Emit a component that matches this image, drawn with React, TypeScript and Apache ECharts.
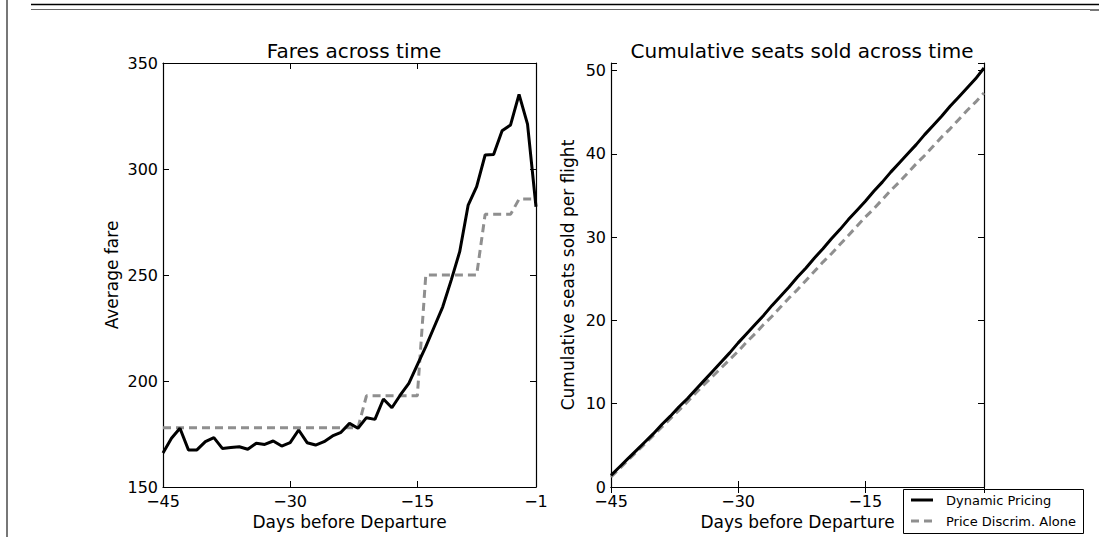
import React, { useEffect, useRef } from "react";
import * as echarts from "echarts";

const days = [-45,-44,-43,-42,-41,-40,-39,-38,-37,-36,-35,-34,-33,-32,-31,-30,-29,-28,-27,-26,-25,-24,-23,-22,-21,-20,-19,-18,-17,-16,-15,-14,-13,-12,-11,-10,-9,-8,-7,-6,-5,-4,-3,-2,-1];

const fareDynamic = [166,173,177.7,167.5,167.5,171.4,173.3,168.2,168.6,169,167.8,170.6,170.1,171.7,169.3,170.9,176.9,170.9,169.8,171.4,174.1,175.8,180,177.7,182.7,181.9,191.5,187.4,193.4,198.9,207.6,216.2,225.6,235,247.6,261,283,291.7,306.6,306.8,318,320.8,335.2,321.2,282.2];

const fareDiscrim = [178,178,178,178,178,178,178,178,178,178,178,178,178,178,178,178,178,178,178,178,178,178,178,178,193,193,193,193,193,193,193,250,250,250,250,250,250,250,278.6,278.6,278.6,278.6,285.8,285.8,285.8];

const seatsDynamic = [1.4,2.4,3.4,4.4,5.4,6.4,7.5,8.5,9.6,10.6,11.7,12.8,13.9,15.0,16.1,17.3,18.4,19.5,20.6,21.8,22.9,24.0,25.2,26.3,27.5,28.6,29.8,30.9,32.1,33.2,34.3,35.5,36.6,37.8,38.9,40.0,41.1,42.3,43.4,44.5,45.7,46.8,47.9,49.0,50.3];

const seatsDiscrim = [1.2,2.2,3.2,4.2,5.2,6.2,7.2,8.2,9.2,10.2,11.3,12.3,13.3,14.3,15.3,16.3,17.4,18.4,19.5,20.5,21.6,22.7,23.7,24.8,25.9,27.0,28.0,29.1,30.2,31.3,32.4,33.4,34.5,35.6,36.6,37.7,38.8,39.8,40.9,42.0,43.0,44.1,45.2,46.2,47.3];

const titles = ["Fares across time", "Cumulative seats sold across time"];
const seriesNames = ["Dynamic Pricing", "Price Discrim. Alone"];
const xName = "Days before Departure";
const yNames = ["Average fare", "Cumulative seats sold per flight"];

const FONT = "DejaVu Sans";
const GRAY = "#8f8f8f";

const minus = (v: number) => String(v).replace("-", "\u2212");

export default function App() {
  const ref = useRef<HTMLDivElement>(null);
  useEffect(() => {
    if (!ref.current) return;
    const chart = echarts.init(ref.current, undefined, { renderer: "svg" });
    const lineAx = { show: true, lineStyle: { color: "#000", width: 1.2 } };
    const tick = { show: true, inside: true, length: 6, lineStyle: { color: "#000", width: 1 } };
    const lbl = { color: "#000", fontFamily: FONT, fontSize: 16 };
    const nameStyle = { color: "#000", fontFamily: FONT, fontSize: 17 };
    const xMain = (gi: number) => ({
      type: "value", gridIndex: gi, position: "bottom", min: -45, max: -1, interval: 15,
      axisLine: lineAx, axisTick: tick, splitLine: { show: false },
      axisLabel: { ...lbl, margin: 6, formatter: minus, showMaxLabel: gi === 0 },
      name: xName, nameLocation: "middle", nameGap: 26, nameTextStyle: nameStyle,
    });
    const xTop = (gi: number) => ({
      type: "value", gridIndex: gi, position: "top", min: -45, max: -1, interval: 15,
      axisLine: lineAx, axisTick: tick, splitLine: { show: false }, axisLabel: { show: false },
    });
    const yMain = (gi: number, min: number, max: number, interval: number, gap: number) => ({
      type: "value", gridIndex: gi, position: "left", min, max, interval,
      axisLine: lineAx, axisTick: tick, splitLine: { show: false },
      axisLabel: { ...lbl, margin: 5, formatter: (v: number) => (v % interval === 0 ? String(v) : "") },
      name: yNames[gi], nameLocation: "middle", nameGap: gap, nameTextStyle: nameStyle,
    });
    const yRight = (gi: number, min: number, max: number, interval: number) => ({
      type: "value", gridIndex: gi, position: "right", min, max, interval,
      axisLine: lineAx, axisTick: tick, splitLine: { show: false }, axisLabel: { show: false },
    });
    const pair = (arr: number[]) => days.map((d, i) => [d, arr[i]]);
    const titleStyle = { fontFamily: FONT, fontSize: 20, fontWeight: "normal", color: "#000" };
    chart.setOption({
      animation: false,
      backgroundColor: "#fff",
      title: [
        { text: titles[0], left: 349, top: 36, textAlign: "center", textStyle: titleStyle },
        { text: titles[1], left: 797, top: 36, textAlign: "center", textStyle: titleStyle },
      ],
      grid: [
        { left: 163, top: 63, width: 373, height: 424 },
        { left: 611, top: 63, width: 373, height: 424 },
      ],
      xAxis: [xMain(0), xTop(0), xMain(1), xTop(1)],
      yAxis: [yMain(0, 150, 350, 50, 43), yRight(0, 150, 350, 50), yMain(1, 0, 50.9, 10, 35), yRight(1, 0, 50.9, 10)],
      series: [
        { type: "line", name: seriesNames[0], xAxisIndex: 0, yAxisIndex: 0, data: pair(fareDynamic), showSymbol: false, lineStyle: { color: "#000", width: 3 }, z: 3 },
        { type: "line", name: seriesNames[1], xAxisIndex: 0, yAxisIndex: 0, data: pair(fareDiscrim), showSymbol: false, lineStyle: { color: GRAY, width: 3, type: [8, 5] }, z: 2 },
        { type: "line", name: seriesNames[0], xAxisIndex: 2, yAxisIndex: 2, data: pair(seatsDynamic), showSymbol: false, lineStyle: { color: "#000", width: 3 }, z: 3 },
        { type: "line", name: seriesNames[1], xAxisIndex: 2, yAxisIndex: 2, data: pair(seatsDiscrim), showSymbol: false, lineStyle: { color: GRAY, width: 3, type: [8, 5] }, z: 2 },
      ],
      graphic: [
        { type: "line", shape: { x1: 7, y1: 0, x2: 7, y2: 537 }, style: { stroke: "#777", lineWidth: 2 } },
        { type: "line", shape: { x1: 31, y1: 4.5, x2: 1099, y2: 4.5 }, style: { stroke: "#000", lineWidth: 1.5 } },
        { type: "line", shape: { x1: 31, y1: 9.5, x2: 1099, y2: 9.5 }, style: { stroke: "#666", lineWidth: 1 } },
        { type: "rect", shape: { x: 1090, y: 9, width: 9, height: 2 }, style: { fill: "#777" } },
        {
          type: "group", z: 100,
          children: [
            { type: "rect", shape: { x: 903.5, y: 489.5, width: 180, height: 44 }, style: { fill: "#fff", stroke: "#000", lineWidth: 1 } },
            { type: "line", shape: { x1: 911, y1: 500, x2: 933, y2: 500 }, style: { stroke: "#000", lineWidth: 3 } },
            { type: "line", shape: { x1: 911, y1: 521, x2: 933, y2: 521 }, style: { stroke: GRAY, lineWidth: 3, lineDash: [8, 5] } },
            { type: "text", style: { text: seriesNames[0], x: 946, y: 500, fill: "#000", font: `13px "${FONT}"`, textVerticalAlign: "middle" } },
            { type: "text", style: { text: seriesNames[1], x: 946, y: 521, fill: "#000", font: `13px "${FONT}"`, textVerticalAlign: "middle" } },
          ],
        },
      ],
    });
    return () => chart.dispose();
  }, []);
  return <div ref={ref} style={{ position: "fixed", left: 0, top: 0, width: 1099, height: 537 }} />;
}
